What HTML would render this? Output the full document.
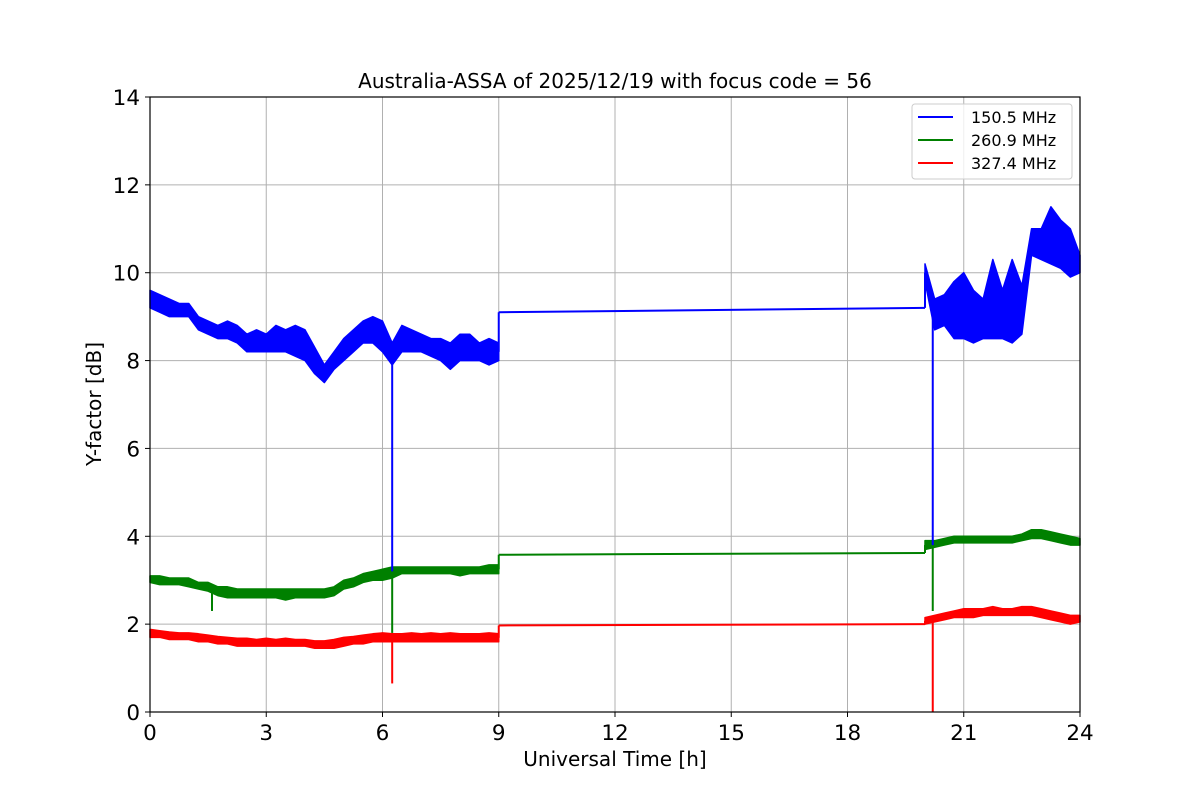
<!DOCTYPE html>
<html><head><meta charset="utf-8"><style>
body{margin:0;background:#fff;}
svg{display:block;font-family:"DejaVu Sans","Liberation Sans",sans-serif;}
</style></head><body>
<svg id="chart" width="1200" height="800">
<rect width="1200" height="800" fill="#fff"/>
<g id="grid"></g>
<g id="series"></g>
<rect x="150" y="97" width="930" height="615" fill="none" stroke="#000" stroke-width="1.2"/>
<g id="ticks"></g>
<text x="615" y="88" text-anchor="middle" font-size="20">Australia-ASSA of 2025/12/19 with focus code = 56</text>
<text x="615" y="766" text-anchor="middle" font-size="20">Universal Time [h]</text>
<text transform="translate(101,404) rotate(-90)" text-anchor="middle" font-size="20">Y-factor [dB]</text>
<g>
<rect x="912" y="104" width="160" height="75" rx="3" fill="#fff" fill-opacity="0.8" stroke="#ccc"/>
<line x1="918" y1="117" x2="953" y2="117" stroke="#0000ff" stroke-width="2"/>
<text x="971" y="123" font-size="16">150.5 MHz</text>
<line x1="918" y1="140" x2="953" y2="140" stroke="#008000" stroke-width="2"/>
<text x="971" y="146" font-size="16">260.9 MHz</text>
<line x1="918" y1="163" x2="953" y2="163" stroke="#ff0000" stroke-width="2"/>
<text x="971" y="169" font-size="16">327.4 MHz</text>
</g>
</svg>
<script>
const xTicks=[0,3,6,9,12,15,18,21,24];
const yTicks=[0,2,4,6,8,10,12,14];
const startA=0, startB=20, step=0.25;
const blueALo=[9.2,9.1,9.0,9.0,9.0,8.7,8.6,8.5,8.5,8.4,8.2,8.2,8.2,8.2,8.2,8.1,8.0,7.7,7.5,7.8,8.0,8.2,8.4,8.4,8.2,7.9,8.2,8.2,8.2,8.1,8.0,7.8,8.0,8.0,8.0,7.9,8.0];
const blueAHi=[9.6,9.5,9.4,9.3,9.3,9.0,8.9,8.8,8.9,8.8,8.6,8.7,8.6,8.8,8.7,8.8,8.7,8.3,7.9,8.2,8.5,8.7,8.9,9.0,8.9,8.4,8.8,8.7,8.6,8.5,8.5,8.4,8.6,8.6,8.4,8.5,8.4];
const blueBLo=[9.8,8.7,8.8,8.5,8.5,8.4,8.5,8.5,8.5,8.4,8.6,10.4,10.3,10.2,10.1,9.9,10.0];
const blueBHi=[10.2,9.4,9.5,9.8,10.0,9.6,9.4,10.3,9.6,10.3,9.7,11.0,11.0,11.5,11.2,11.0,10.4];
const greenALo=[2.95,2.9,2.9,2.9,2.85,2.8,2.75,2.65,2.6,2.6,2.6,2.6,2.6,2.6,2.55,2.6,2.6,2.6,2.6,2.65,2.8,2.85,2.95,3.0,3.0,3.05,3.15,3.15,3.15,3.15,3.15,3.15,3.1,3.15,3.15,3.15,3.15];
const greenAHi=[3.1,3.1,3.05,3.05,3.05,2.95,2.95,2.85,2.85,2.8,2.8,2.8,2.8,2.8,2.8,2.8,2.8,2.8,2.8,2.85,3.0,3.05,3.15,3.2,3.25,3.3,3.3,3.3,3.3,3.3,3.3,3.3,3.3,3.3,3.3,3.35,3.35];
const greenBLo=[3.7,3.75,3.8,3.85,3.85,3.85,3.85,3.85,3.85,3.85,3.9,3.95,3.95,3.9,3.85,3.8,3.8];
const greenBHi=[3.9,3.9,3.95,4.0,4.0,4.0,4.0,4.0,4.0,4.0,4.05,4.15,4.15,4.1,4.05,4.0,3.95];
const redALo=[1.7,1.7,1.65,1.65,1.65,1.6,1.6,1.55,1.55,1.5,1.5,1.5,1.5,1.5,1.5,1.5,1.5,1.45,1.45,1.45,1.5,1.55,1.55,1.6,1.6,1.6,1.6,1.6,1.6,1.6,1.6,1.6,1.6,1.6,1.6,1.6,1.6];
const redAHi=[1.88,1.85,1.82,1.8,1.8,1.78,1.75,1.72,1.7,1.68,1.68,1.65,1.68,1.65,1.68,1.65,1.65,1.62,1.62,1.65,1.7,1.72,1.75,1.78,1.8,1.78,1.78,1.8,1.78,1.8,1.78,1.8,1.78,1.78,1.78,1.8,1.78];
const redBLo=[2.0,2.05,2.1,2.15,2.15,2.15,2.2,2.2,2.2,2.2,2.2,2.2,2.15,2.1,2.05,2.0,2.05];
const redBHi=[2.15,2.2,2.25,2.3,2.35,2.35,2.35,2.4,2.35,2.35,2.4,2.4,2.35,2.3,2.25,2.2,2.2];
const flatT=[9,20];
const blueFlat=[9.1,9.2], greenFlat=[3.58,3.62], redFlat=[1.97,2.0];
const dropT=[6.25,20.2];
const blueDrop=[3.2,3.8], greenDrop=[1.8,2.3], redDrop=[0.65,0];
const greenSpikeT=[1.6], greenSpike=[2.3];

const NS='http://www.w3.org/2000/svg';
const X=t=>150+t/24*930, Y=v=>712-v/14*615;
function mk(tag,attrs,parent){const e=document.createElementNS(NS,tag);for(const k in attrs)e.setAttribute(k,attrs[k]);parent.appendChild(e);return e;}
const grid=document.getElementById('grid'), ticks=document.getElementById('ticks'), ser=document.getElementById('series');
xTicks.forEach(t=>{
  const l=mk('line',{x1:X(t),x2:X(t),y1:97,y2:712,stroke:'#b0b0b0','stroke-width':1},grid);
  
  
  const k=mk('line',{x1:X(t),x2:X(t),y1:712,y2:717,stroke:'#000'},ticks);
  
  
  const tx=mk('text',{x:X(t),y:740,'text-anchor':'middle','font-size':21.5},ticks);tx.textContent=t;
  
  
});
yTicks.forEach(v=>{
  const l=mk('line',{x1:150,x2:1080,y1:Y(v),y2:Y(v),stroke:'#b0b0b0','stroke-width':1},grid);
  
  
  const k=mk('line',{x1:145,x2:150,y1:Y(v),y2:Y(v),stroke:'#000'},ticks);
  
  
  const tx=mk('text',{x:140,y:Y(v)+8,'text-anchor':'end','font-size':21.5},ticks);tx.textContent=v;
  
  
});
function band(lo,hi,t0,color,name){
  let pts=[];
  hi.forEach((v,i)=>pts.push(X(t0+i*step)+','+Y(v)));
  for(let i=lo.length-1;i>=0;i--)pts.push(X(t0+i*step)+','+Y(lo[i]));
  const p=mk('polygon',{points:pts.join(' '),fill:color,stroke:color,'stroke-width':1.5,'stroke-linejoin':'round'},ser);
  
  
}
function seg(t1,v1,t2,v2,color,name){
  const l=mk('line',{x1:X(t1),y1:Y(v1),x2:X(t2),y2:Y(v2),stroke:color,'stroke-width':2},ser);
  
  
}
function series(aLo,aHi,bLo,bHi,flat,drop,color,n){
  band(aLo,aHi,startA,color,n+'-band-early');
  band(bLo,bHi,startB,color,n+'-band-late');
  const endA=(aLo[aLo.length-1]+aHi[aHi.length-1])/2;
  seg(flatT[0],endA,flatT[0],flat[0],color,n+'-step');
  seg(flatT[0],flat[0],flatT[1],flat[1],color,n+'-flat');
  seg(flatT[1],flat[1],startB,(bLo[0]+bHi[0])/2,color,n+'-step-late');
  dropT.forEach((t,i)=>{
    const a=t0idx(t,aLo,aHi,bLo,bHi);
    seg(t,a,t,drop[i],color,n+'-drop');
  });
}
function t0idx(t,aLo,aHi,bLo,bHi){
  if(t<=9){const i=Math.round(t/step);return (aLo[i]+aHi[i])/2;}
  const i=Math.round((t-startB)/step);return (bLo[i]+bHi[i])/2;
}
series(redALo,redAHi,redBLo,redBHi,redFlat,redDrop,'#ff0000','red-327');
series(greenALo,greenAHi,greenBLo,greenBHi,greenFlat,greenDrop,'#008000','green-260');
greenSpikeT.forEach((t,i)=>seg(t,2.8,t,greenSpike[i],'#008000','green-spike'));
series(blueALo,blueAHi,blueBLo,blueBHi,blueFlat,blueDrop,'#0000ff','blue-150');
</script>
</body></html>
